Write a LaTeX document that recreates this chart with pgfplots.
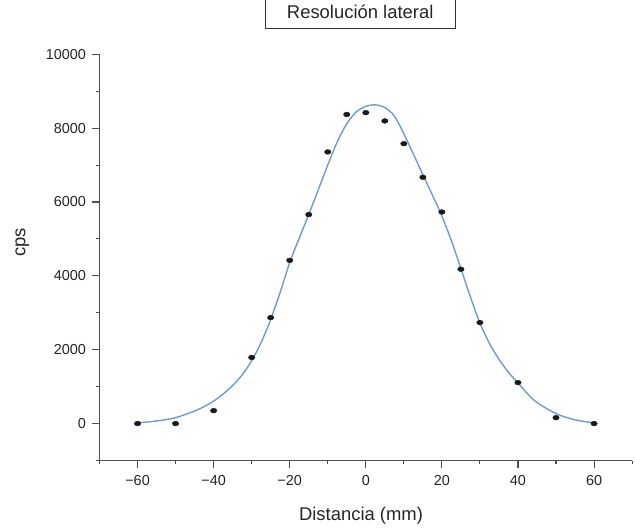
\documentclass[border=0pt]{standalone}
\usepackage{pgfplots}
\pgfplotsset{compat=1.18}
\usepackage{fontspec}
\setmainfont{Liberation Sans}
\definecolor{curveblue}{RGB}{108,155,212}
\definecolor{axgray}{RGB}{80,80,80}

\pgfplotstableread{
x y
-60 0
-50 0
-40 350
-30 1790
-25 2870
-20 4420
-15 5660
-10 7355
-5 8370
0 8420
5 8195
10 7580
15 6670
20 5730
25 4180
30 2735
40 1110
50 160
60 0
}\measured

\pgfplotstableread{
x y
-60 20
-55 70
-50 160
-45 340
-42.5 460
-40 610
-37.5 800
-35 1030
-32.5 1320
-30 1700
-27.5 2200
-25 2820
-22.5 3560
-20 4360
-17.5 5020
-15 5660
-12.5 6330
-10 7000
-7.5 7630
-5 8120
-2.5 8440
0 8590
2.5 8630
5 8560
7.5 8330
10 7850
12.5 7300
15 6740
17.5 6190
20 5620
22.5 4950
25 4200
27.5 3430
30 2720
32.5 2170
35 1740
37.5 1390
40 1100
42.5 810
45 570
50 270
55 100
60 20
}\fitted

\begin{document}
\begin{tikzpicture}
\useasboundingbox (-99.5bp,-69.5bp) rectangle (535.5bp,460.5bp);
\begin{axis}[
  at={(0,0)}, anchor=south west,
  scale only axis, width=532.6bp, height=406.2bp,
  xmin=-70, xmax=70, ymin=-1000, ymax=10000,
  scaled y ticks=false, scaled x ticks=false,
  axis x line=bottom, axis y line=left,
  axis line style={-, axgray, line width=1.6pt},
  tick align=outside,
  major tick length=7bp, minor tick length=3.5bp,
  every tick/.style={axgray, line width=1.1pt},
  xtick={-60,-40,-20,0,20,40,60},
  xticklabels={−60,−40,−20,0,20,40,60},
  minor xtick={-70,-50,-30,-10,10,30,50,70},
  ytick={0,2000,4000,6000,8000,10000},
  yticklabels={0,2000,4000,6000,8000,10000},
  minor ytick={-1000,1000,3000,5000,7000,9000},
  ticklabel style={font=\fontsize{14.5}{16}\selectfont, text=black!85},
  xticklabel style={yshift=-4bp},
  yticklabel style={xshift=-3bp},
  xlabel={Distancia (mm)},
  ylabel={cps},
  label style={font=\fontsize{18.5}{20}\selectfont, text=black!85},
  xlabel style={at={(axis description cs:0.491,-0.135)}, anchor=center},
  ylabel style={at={(axis description cs:-0.145,0.537)}, anchor=center},
  title={Resolución lateral},
  title style={at={(axis description cs:0.4895,1.0905)}, anchor=center,
    draw=black!80, line width=0.6pt, minimum width=190bp, minimum height=34bp,
    inner sep=0pt, font=\fontsize{18.5}{20}\selectfont, text=black!85},
  clip=false,
]
\addplot[curveblue, line width=1.4pt, smooth, tension=0.5, no markers] table[x=x,y=y] {\fitted};
\addplot[only marks, mark=*, mark size=2.4pt, mark options={fill=black!90, draw=black!90, xscale=1.35}] table[x=x,y=y] {\measured};
\end{axis}
\end{tikzpicture}
\end{document}
